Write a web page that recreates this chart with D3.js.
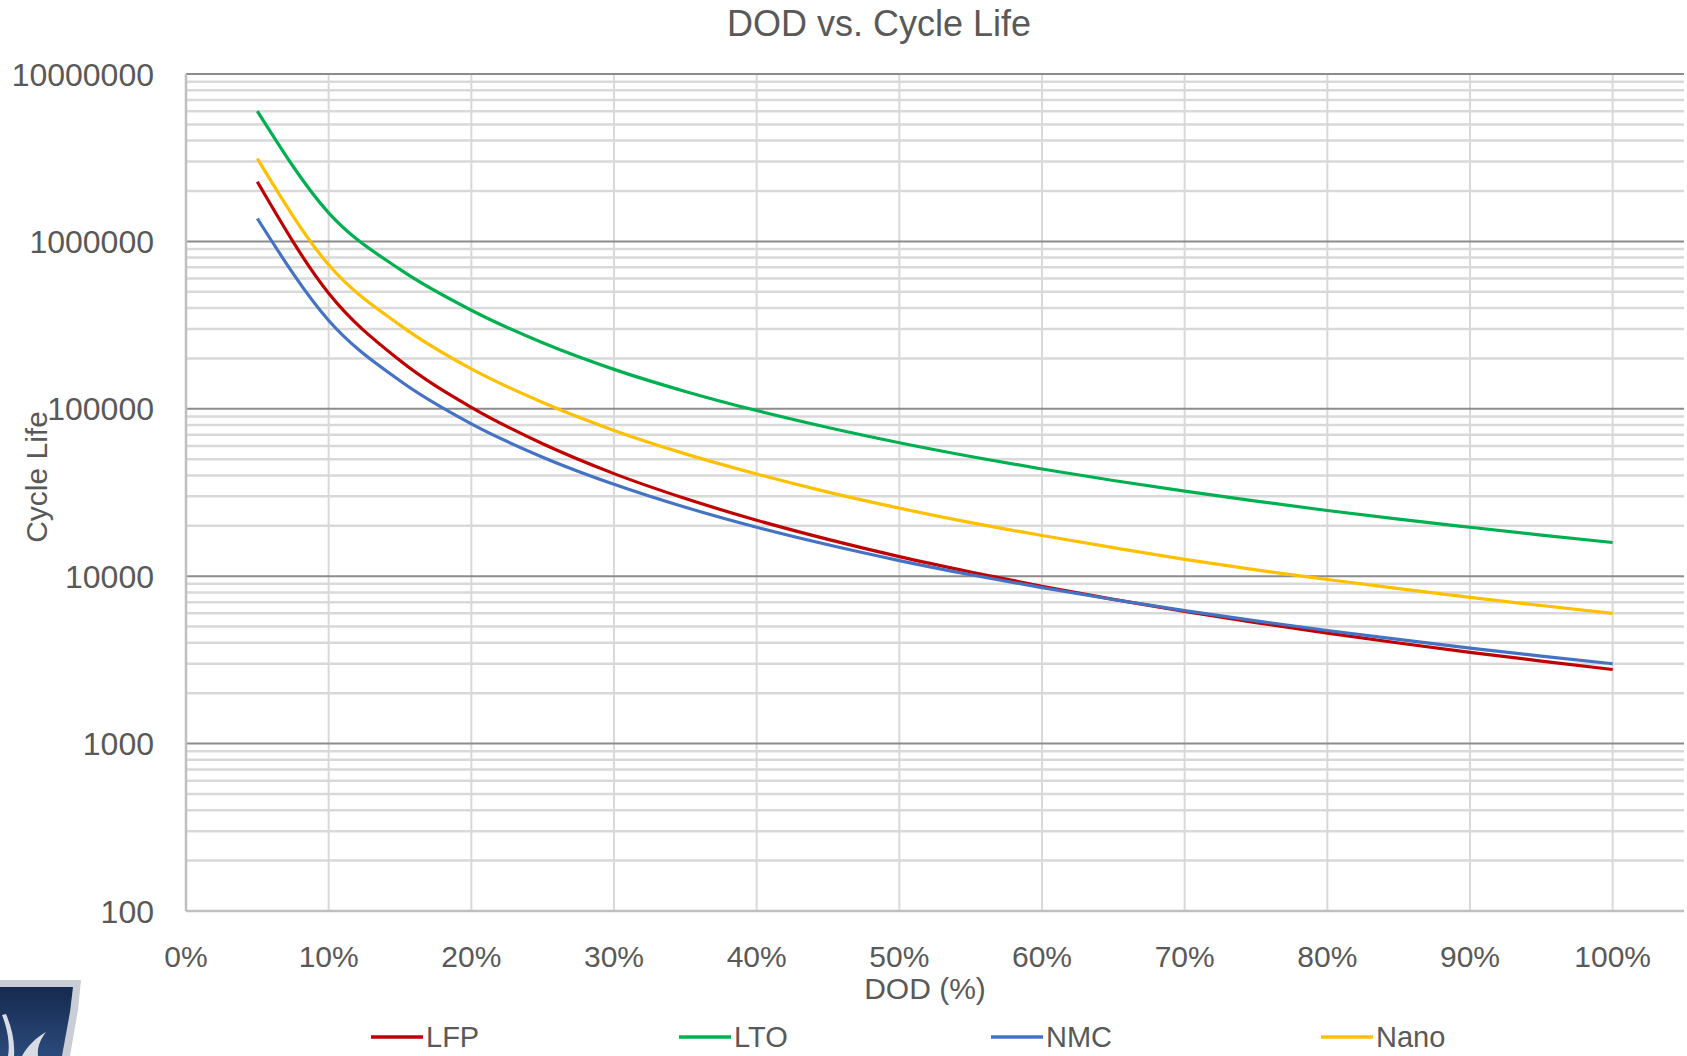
<!DOCTYPE html>
<html>
<head>
<meta charset="utf-8">
<script src="https://cdn.jsdelivr.net/npm/d3@7"></script>
<style>
  html, body { margin: 0; padding: 0; background: #fff; }
  svg text { font-family: "Liberation Sans", Arial, sans-serif; fill: #595959; }
</style>
</head>
<body>
<svg id="chart" width="1687" height="1056"></svg>
<script>
// depth of discharge (fraction) for every point
const dod = [0.05, 0.10, 0.15, 0.20, 0.25, 0.30, 0.35, 0.40, 0.45, 0.50,
             0.55, 0.60, 0.65, 0.70, 0.75, 0.80, 0.85, 0.90, 0.95, 1.00];

// cycle life
const lfp  = [2270000, 490000, 194000, 102000, 61800, 41000, 29100, 21600, 16600, 13100,
              10600, 8700, 7270, 6160, 5280, 4570, 3990, 3510, 3110, 2770];
const lto  = [6000000, 1480000, 680000, 388000, 248000, 172000, 127000, 97600, 77300, 62700,
              51900, 43700, 37300, 32200, 28100, 24700, 21900, 19600, 17600, 15900];
const nmc  = [1370000, 337000, 147000, 81300, 51400, 35400, 25800, 19600, 15400, 12400,
              10200, 8550, 7260, 6230, 5410, 4740, 4190, 3720, 3330, 3000];
const nano = [3120000, 725000, 316000, 173000, 109000, 74300, 53800, 40800, 31800, 25500,
              20900, 17500, 14800, 12600, 10900, 9560, 8430, 7480, 6680, 6000];

const seriesNames = ["LFP", "LTO", "NMC", "Nano"];
const seriesValues = [lfp, lto, nmc, nano];
const seriesColors = ["#c00000", "#00b050", "#4472c4", "#ffc000"];

const xTicks = [0, 0.1, 0.2, 0.3, 0.4, 0.5, 0.6, 0.7, 0.8, 0.9, 1.0];
const yTicks = [100, 1000, 10000, 100000, 1000000, 10000000];

const svg = d3.select("#chart");

const x = d3.scaleLinear().domain([0, 1.05]).range([186, 1684]);
const y = d3.scaleLog().domain([100, 1e7]).range([911, 74]);

// minor horizontal grid (2..9 per decade)
const minor = [];
yTicks.slice(0, -1).forEach(d => { for (let k = 2; k <= 9; k++) minor.push(d * k); });

svg.append("g").selectAll("line")
  .data(minor).enter().append("line")
  .attr("x1", x(0)).attr("x2", x(1.05))
  .attr("y1", d => y(d)).attr("y2", d => y(d))
  .attr("stroke", "#d9d9d9").attr("stroke-width", 2.5);

// vertical grid
svg.append("g").selectAll("line")
  .data(xTicks.slice(1)).enter().append("line")
  .attr("x1", d => x(d)).attr("x2", d => x(d))
  .attr("y1", y(1e7)).attr("y2", y(100))
  .attr("stroke", "#d9d9d9").attr("stroke-width", 2);

// major horizontal grid
svg.append("g").selectAll("line")
  .data(yTicks.slice(1)).enter().append("line")
  .attr("x1", x(0)).attr("x2", x(1.05))
  .attr("y1", d => y(d)).attr("y2", d => y(d))
  .attr("stroke", "#8c8c8c").attr("stroke-width", 2);

// axis lines
svg.append("line")
  .attr("x1", x(0)).attr("x2", x(0)).attr("y1", y(1e7)).attr("y2", y(100))
  .attr("stroke", "#bfbfbf").attr("stroke-width", 2.5);
svg.append("line")
  .attr("x1", x(0)).attr("x2", x(1.05)).attr("y1", y(100)).attr("y2", y(100))
  .attr("stroke", "#bfbfbf").attr("stroke-width", 2.5);

// y tick labels
svg.append("g").selectAll("text")
  .data(yTicks).enter().append("text")
  .attr("x", 154).attr("y", d => y(d))
  .attr("dy", "0.36em")
  .attr("text-anchor", "end")
  .style("font-size", "32px")
  .text(d => d3.format("d")(d));

// x tick labels
svg.append("g").selectAll("text")
  .data(xTicks).enter().append("text")
  .attr("x", d => x(d)).attr("y", 956)
  .attr("dy", "0.36em")
  .attr("text-anchor", "middle")
  .style("font-size", "30px")
  .text(d => d3.format(".0%")(d));

// titles
svg.append("text")
  .attr("x", 879).attr("y", 23).attr("dy", "0.36em")
  .attr("text-anchor", "middle")
  .style("font-size", "36px")
  .text("DOD vs. Cycle Life");

svg.append("text")
  .attr("x", 925).attr("y", 988).attr("dy", "0.36em")
  .attr("text-anchor", "middle")
  .style("font-size", "30px")
  .text("DOD (%)");

svg.append("text")
  .attr("transform", "translate(36,477) rotate(-90)")
  .attr("dy", "0.36em")
  .attr("text-anchor", "middle")
  .style("font-size", "30px")
  .text("Cycle Life");

// series lines
const line = d3.line()
  .x((d, i) => x(dod[i]))
  .y(d => y(d))
  .curve(d3.curveMonotoneX);

svg.append("g").selectAll("path")
  .data(seriesValues).enter().append("path")
  .attr("d", d => line(d))
  .attr("fill", "none")
  .attr("stroke", (d, i) => seriesColors[i])
  .attr("stroke-width", 3.2);

// legend
const legendX = [371, 679, 991, 1321];
const legend = svg.append("g").selectAll("g")
  .data(seriesNames).enter().append("g")
  .attr("transform", (d, i) => `translate(${legendX[i]},1037)`);
legend.append("line")
  .attr("x1", 0).attr("x2", 52)
  .attr("stroke", (d, i) => seriesColors[i])
  .attr("stroke-width", 3.5);
legend.append("text")
  .attr("x", 55).attr("dy", "0.36em")
  .style("font-size", "29px")
  .text(d => d);

// logo fragment in the bottom-left corner
const defs = svg.append("defs");
const grad = defs.append("linearGradient").attr("id", "shield")
  .attr("x1", 0).attr("y1", 0).attr("x2", 0).attr("y2", 1);
grad.append("stop").attr("offset", "0%").attr("stop-color", "#152a4e");
grad.append("stop").attr("offset", "100%").attr("stop-color", "#2b4a7c");
svg.append("path")
  .attr("d", "M0,980 L81,980 L78,1010 L70,1056 L0,1056 Z")
  .attr("fill", "#c9ced6");
svg.append("path")
  .attr("d", "M0,987 L73,987 L70,1012 L62,1056 L0,1056 Z")
  .attr("fill", "url(#shield)");
svg.append("path")
  .attr("d", "M2,1015 C8,1030 10,1045 8,1056 L14,1056 C15,1042 12,1028 6,1014 Z M22,1056 C28,1045 36,1038 46,1032 C40,1040 37,1048 38,1056 Z")
  .attr("fill", "#d8dde4");
</script>
</body>
</html>
